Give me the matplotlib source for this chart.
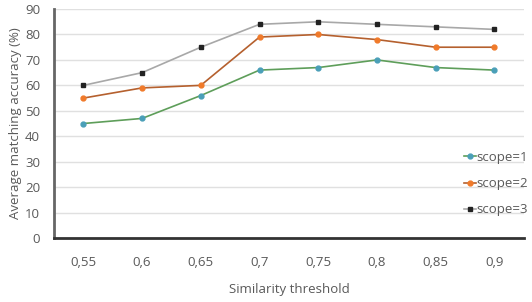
import matplotlib.pyplot as plt

thresholds = ['0,55', '0,6', '0,65', '0,7', '0,75', '0,8', '0,85', '0,9']
scope1 = [45, 47, 56, 66, 67, 70, 67, 66]
scope2 = [55, 59, 60, 79, 80, 78, 75, 75]
scope3 = [60, 65, 75, 84, 85, 84, 83, 82]

plt.rcParams['font.family'] = ['Open Sans', 'DejaVu Sans']

fig = plt.figure(figsize=(5.32, 3.02), dpi=100)
ax = fig.add_axes([0.1015, 0.212, 0.883, 0.758])

x = range(len(thresholds))
ax.plot(x, scope1, '-', color='#5E9E5A', lw=1.2, marker='o', ms=3.5,
        mfc='#4A9FB8', mec='#4A9FB8', label='scope=1', zorder=3)
ax.plot(x, scope2, '-', color='#B5602E', lw=1.2, marker='o', ms=3.5,
        mfc='#F07A2A', mec='#F07A2A', label='scope=2', zorder=3)
ax.plot(x, scope3, '-', color='#A8A8A8', lw=1.2, marker='s', ms=3.5,
        mfc='#222222', mec='#222222', label='scope=3', zorder=3)

ax.set_xlim(-0.5, len(thresholds) - 0.5)
ax.set_ylim(0, 90)
ax.set_yticks(range(0, 91, 10))
ax.set_xticks(list(x))
ax.set_xticklabels(thresholds)
ax.yaxis.grid(True, color='#E0E0E0', lw=1)
ax.set_axisbelow(True)

for s in ['top', 'right']:
    ax.spines[s].set_visible(False)
ax.spines['left'].set_color('#666666')
ax.spines['left'].set_linewidth(2)
ax.spines['bottom'].set_color('#333333')
ax.spines['bottom'].set_linewidth(2)

ax.tick_params(axis='both', length=0, labelsize=9.5, labelcolor='#595959')
ax.tick_params(axis='x', pad=13)
ax.tick_params(axis='y', pad=10)

ax.set_xlabel('Similarity threshold', fontsize=9.5, color='#595959', labelpad=10)
ax.set_ylabel('Average matching accuracy (%)', fontsize=9.5, color='#595959', labelpad=2)

leg = ax.legend(loc='upper left', bbox_to_anchor=(0.872, 0.38), frameon=False,
                fontsize=9.5, handlelength=0.9, handletextpad=0.1,
                labelspacing=1.0, borderaxespad=0, borderpad=0)
for t in leg.get_texts():
    t.set_color('#595959')

fig.savefig('out.png', dpi=100)
